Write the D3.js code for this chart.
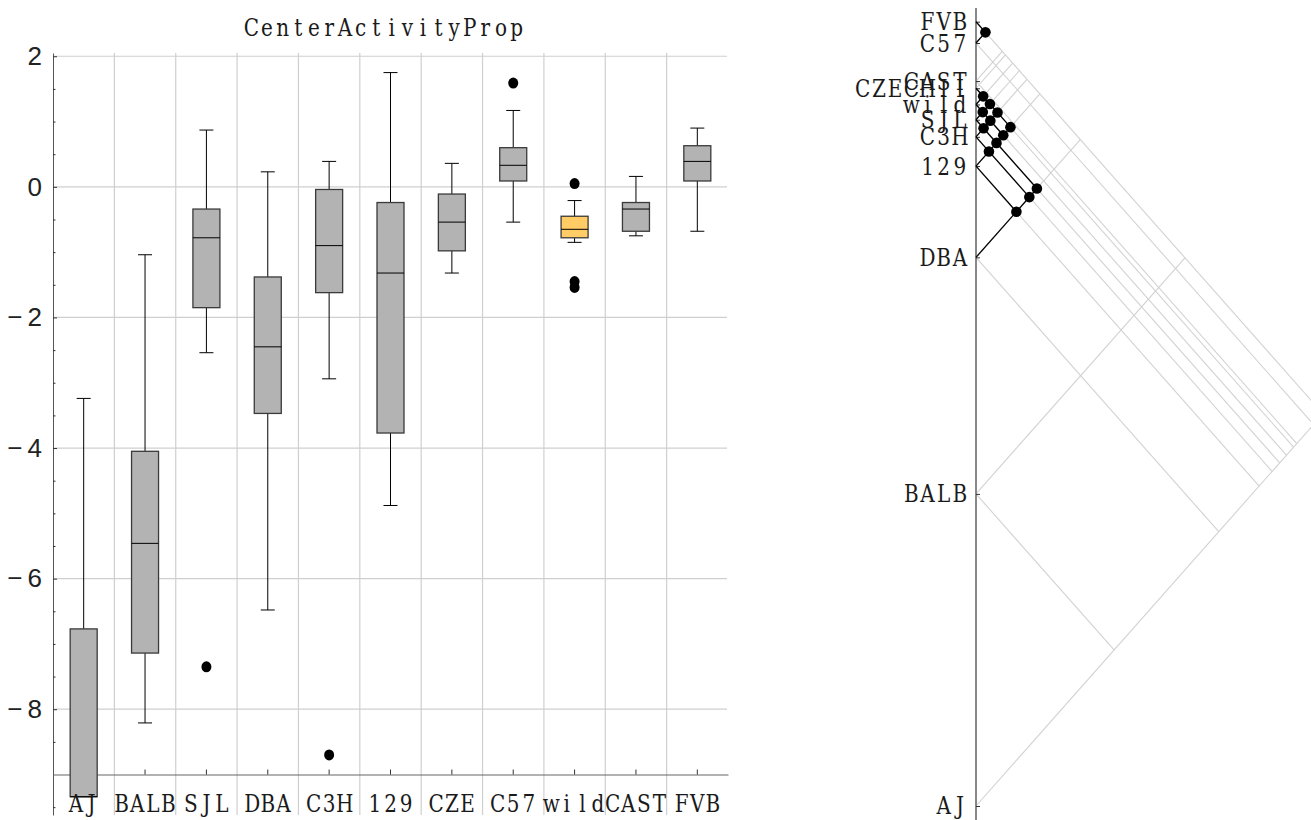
<!DOCTYPE html>
<html>
<head>
<meta charset="utf-8">
<script src="https://cdn.jsdelivr.net/npm/d3@7"></script>
<style>
  html, body { margin: 0; padding: 0; background: #fff; }
  svg { display: block; }
</style>
</head>
<body>
<svg id="chart" width="1311" height="820"></svg>
<script>
// Strains in plotting order (left panel) and their names on the comparison axis
const strains = ["AJ", "BALB", "SJL", "DBA", "C3H", "129", "CZE", "C57", "wild", "CAST", "FVB"];
const strainNames = ["AJ", "BALB", "SJL", "DBA", "C3H", "129", "CZECHII", "C57", "wild", "CAST", "FVB"];

// Box-and-whisker summaries of CenterActivityProp per strain
const whiskerLow  = [-9.34, -8.21, -2.54, -6.48, -2.94, -4.88, -1.32, -0.54, -0.85, -0.75, -0.68];
const quartile1   = [-9.34, -7.14, -1.85, -3.47, -1.62, -3.77, -0.98,  0.09, -0.78, -0.68,  0.09];
const medians     = [-9.34, -5.46, -0.78, -2.45, -0.90, -1.32, -0.54,  0.33, -0.65, -0.34,  0.39];
const quartile3   = [-6.77, -4.05, -0.34, -1.38, -0.04, -0.24, -0.11,  0.60, -0.45, -0.24,  0.63];
const whiskerHigh = [-3.24, -1.04,  0.87,  0.23,  0.39,  1.75,  0.36,  1.17, -0.21,  0.16,  0.90];
const outliers    = [[], [], [-7.35], [], [-8.70], [], [], [1.59], [0.05, -1.45, -1.54], [], []];
const highlighted = "wild";

const yTickValues = [2, 0, -2, -4, -6, -8];
const yTickLabels = ["2", "0", "\u2212\u20092", "\u2212\u20094", "\u2212\u20096", "\u2212\u20098"];

// Group estimates used for the pairwise comparison diagram
const groupMeans = [-8.40, -4.93, -0.77, -2.30, -0.96, -1.285, -0.42, 0.083, -0.60, -0.34, 0.32];

// Pairs of strains whose difference is not significant
const similarPairs = [
  ["FVB", "C57"],
  ["CZE", "wild"], ["CZE", "SJL"], ["CZE", "C3H"], ["CZE", "129"],
  ["wild", "SJL"], ["wild", "C3H"], ["wild", "129"],
  ["SJL", "C3H"], ["SJL", "129"], ["SJL", "DBA"],
  ["C3H", "129"], ["C3H", "DBA"],
  ["129", "DBA"]
];

const svg = d3.select("#chart");
const serifFont = "'DejaVu Serif', 'Liberation Serif', serif";
const sansFont = "'Liberation Sans', Arial, sans-serif";

// Typewriter-style label: every glyph is centred in a fixed-width cell,
// with the glyphs narrowed so that they fit their cells.
function typewriter(g, str, ax, baseline, anchor, cell = 15.6) {
  const sx = 0.8, n = str.length;
  const start = anchor === "end" ? ax - n * cell : anchor === "middle" ? ax - n * cell / 2 : ax;
  const xs = d3.range(n).map(k => ((start + (k + 0.5) * cell) / sx).toFixed(2)).join(" ");
  return g.append("text")
    .attr("transform", `scale(${sx},1)`)
    .attr("x", xs).attr("y", baseline)
    .attr("text-anchor", "middle")
    .attr("font-family", serifFont).attr("font-size", 25)
    .attr("fill", "#1a1a1a")
    .text(str);
}

/* ---------------- Left panel: box plots ---------------- */
const x = d3.scaleBand().domain(strains).range([53, 728]).paddingInner(0).paddingOuter(0);
const y = d3.scaleLinear().domain([-9.62, 2.05]).range([815, 53]);
const bw = x.bandwidth();
const cx = s => x(s) + bw / 2;

const left = svg.append("g");

// grid
left.append("g").selectAll("line").data(yTickValues).join("line")
  .attr("x1", 53).attr("x2", 727)
  .attr("y1", d => y(d)).attr("y2", d => y(d))
  .attr("stroke", "#cfcfcf").attr("stroke-width", 1.2);
left.append("g").selectAll("line").data(strains.slice(1)).join("line")
  .attr("x1", d => x(d)).attr("x2", d => x(d))
  .attr("y1", 53).attr("y2", 815)
  .attr("stroke", "#cfcfcf").attr("stroke-width", 1.2);

// title
typewriter(left, "CenterActivityProp", 384, 36, "middle");

// y axis (major ticks with labels)
const yAxis = left.append("g").attr("transform", "translate(53,0)")
  .call(d3.axisLeft(y).tickValues(yTickValues)
    .tickFormat((d, i) => yTickLabels[i])
    .tickSizeInner(-4).tickSizeOuter(0).tickPadding(11));
yAxis.select(".domain").attr("stroke", "#555");
yAxis.selectAll(".tick line").attr("stroke", "#333");
yAxis.selectAll("text").attr("font-family", sansFont).attr("font-size", 26).attr("fill", "#222");

// y axis minor ticks
const minorAxis = left.append("g").attr("transform", "translate(53,0)")
  .call(d3.axisLeft(y).tickValues(d3.range(-9.5, 2.01, 0.5).filter(v => !yTickValues.includes(v) && v !== -9))
    .tickFormat("").tickSizeInner(-2.5).tickSizeOuter(0));
minorAxis.select(".domain").remove();
minorAxis.selectAll(".tick line").attr("stroke", "#333");

// x axis along the baseline
const xAxis = left.append("g").attr("transform", `translate(0,${y(-9)})`)
  .call(d3.axisBottom(x).tickFormat("").tickSizeInner(-5).tickSizeOuter(0));
xAxis.select(".domain").attr("stroke", "#666").attr("stroke-width", 1.2);
xAxis.selectAll(".tick line").attr("stroke", "#333");

// boxes
const boxW = 27, capW = 14;
const boxes = left.append("g").selectAll("g").data(strains).join("g");
boxes.each(function (s, i) {
  const g = d3.select(this);
  const c = cx(s);
  g.append("line").attr("x1", c).attr("x2", c)
    .attr("y1", y(quartile3[i])).attr("y2", y(whiskerHigh[i])).attr("stroke", "#000");
  g.append("line").attr("x1", c).attr("x2", c)
    .attr("y1", y(quartile1[i])).attr("y2", y(whiskerLow[i])).attr("stroke", "#000");
  g.append("line").attr("x1", c - capW / 2).attr("x2", c + capW / 2)
    .attr("y1", y(whiskerHigh[i])).attr("y2", y(whiskerHigh[i])).attr("stroke", "#000");
  g.append("line").attr("x1", c - capW / 2).attr("x2", c + capW / 2)
    .attr("y1", y(whiskerLow[i])).attr("y2", y(whiskerLow[i])).attr("stroke", "#000");
  g.append("rect")
    .attr("x", c - boxW / 2).attr("width", boxW)
    .attr("y", y(quartile3[i])).attr("height", y(quartile1[i]) - y(quartile3[i]))
    .attr("fill", s === highlighted ? "#ffcc66" : "#b3b3b3")
    .attr("stroke", "#3a3a3a").attr("stroke-width", 1.3);
  g.append("line").attr("x1", c - boxW / 2).attr("x2", c + boxW / 2)
    .attr("y1", y(medians[i])).attr("y2", y(medians[i])).attr("stroke", "#000");
  g.selectAll("ellipse").data(outliers[i]).join("ellipse")
    .attr("cx", c).attr("cy", d => y(d)).attr("rx", 5).attr("ry", 5.5).attr("fill", "#000");
});

// strain names under the baseline
const catLabels = left.append("g");
strains.forEach(s => typewriter(catLabels, s, cx(s), 812, "middle"));

/* ---------------- Right panel: pairwise comparison diagram ---------------- */
const ax = 976;      // position of the comparison axis
const slope = 0.885; // horizontal spread per unit of vertical separation
const yR = d3.scaleLinear().domain(d3.extent(groupMeans)).range([806, 21.7]);
const idx = s => strains.indexOf(s);
const pos = i => yR(groupMeans[i]);
const meet = (i, j) => [ax + slope * Math.abs(pos(i) - pos(j)) / 2, (pos(i) + pos(j)) / 2];
const topI = groupMeans.indexOf(d3.max(groupMeans));
const botI = groupMeans.indexOf(d3.min(groupMeans));

const right = svg.append("g");

// light diagonals from every group
const diag = [];
strains.forEach((s, i) => {
  if (i !== topI) diag.push([[ax, pos(i)], meet(i, topI)]);
  if (i !== botI) diag.push([[ax, pos(i)], meet(i, botI)]);
});
right.append("g").selectAll("line").data(diag).join("line")
  .attr("x1", d => d[0][0]).attr("y1", d => d[0][1])
  .attr("x2", d => d[1][0]).attr("y2", d => d[1][1])
  .attr("stroke", "#d2d2d2").attr("stroke-width", 1.1);

// axis with ticks at each group
right.append("line").attr("x1", ax).attr("x2", ax).attr("y1", 8).attr("y2", 820)
  .attr("stroke", "#888").attr("stroke-width", 2);
const rAxis = right.append("g").attr("transform", `translate(${ax},0)`)
  .call(d3.axisLeft(yR).tickValues(groupMeans).tickFormat("")
    .tickSizeInner(-4).tickSizeOuter(0));
rAxis.select(".domain").remove();
rAxis.selectAll(".tick line").attr("stroke", "#333");
const rLabels = right.append("g");
strainNames.forEach((name, i) => typewriter(rLabels, name, ax - 8, pos(i) + 8.5, "end", 16.2));

// black links to the farthest similar group above and below
const links = [];
strains.forEach((s, i) => {
  const partners = similarPairs.filter(p => p.includes(s)).map(p => idx(p[0] === s ? p[1] : p[0]));
  const above = partners.filter(j => groupMeans[j] > groupMeans[i]);
  const below = partners.filter(j => groupMeans[j] < groupMeans[i]);
  if (above.length) links.push([[ax, pos(i)], meet(i, d3.greatest(above, j => groupMeans[j]))]);
  if (below.length) links.push([[ax, pos(i)], meet(i, d3.least(below, j => groupMeans[j]))]);
});
right.append("g").selectAll("line").data(links).join("line")
  .attr("x1", d => d[0][0]).attr("y1", d => d[0][1])
  .attr("x2", d => d[1][0]).attr("y2", d => d[1][1])
  .attr("stroke", "#000").attr("stroke-width", 1.3);

right.append("g").selectAll("circle").data(similarPairs).join("circle")
  .attr("cx", p => meet(idx(p[0]), idx(p[1]))[0])
  .attr("cy", p => meet(idx(p[0]), idx(p[1]))[1])
  .attr("r", 5.3).attr("fill", "#000");
</script>
</body>
</html>
